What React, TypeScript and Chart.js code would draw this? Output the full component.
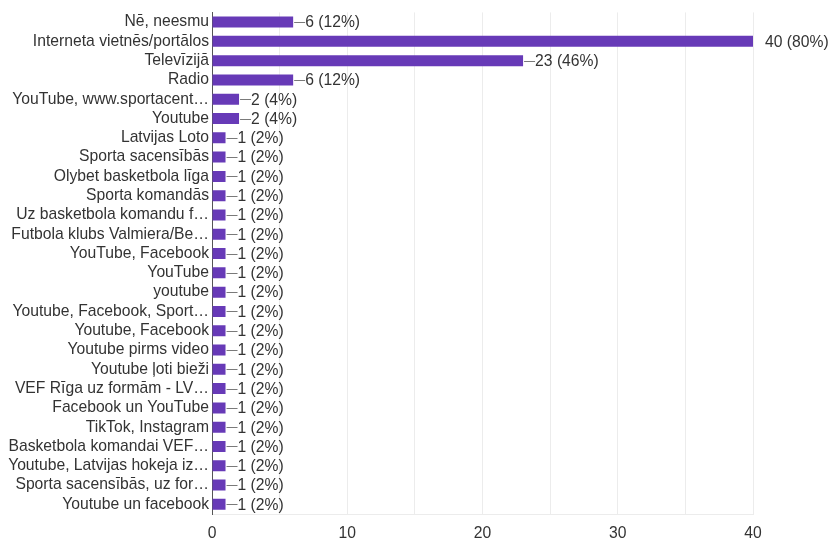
import React, { useEffect, useRef } from "react";
import { Chart, registerables } from "chart.js";

Chart.register(...registerables);

const categories: string[] = [
  "Nē, neesmu",
  "Interneta vietnēs/portālos",
  "Televīzijā",
  "Radio",
  "YouTube, www.sportacent…",
  "Youtube",
  "Latvijas Loto",
  "Sporta sacensībās",
  "Olybet basketbola līga",
  "Sporta komandās",
  "Uz basketbola komandu f…",
  "Futbola klubs Valmiera/Be…",
  "YouTube, Facebook",
  "YouTube",
  "youtube",
  "Youtube, Facebook, Sport…",
  "Youtube, Facebook",
  "Youtube pirms video",
  "Youtube ļoti bieži",
  "VEF Rīga uz formām - LV…",
  "Facebook un YouTube",
  "TikTok, Instagram",
  "Basketbola komandai VEF…",
  "Youtube, Latvijas hokeja iz…",
  "Sporta sacensībās, uz for…",
  "Youtube un facebook",
];

const counts: number[] = [6, 40, 23, 6, 2, 2, 1, 1, 1, 1, 1, 1, 1, 1, 1, 1, 1, 1, 1, 1, 1, 1, 1, 1, 1, 1];
const totalResponses = 50;
const xTicks: number[] = [0, 10, 20, 30, 40];

const FONT = "'Liberation Sans', Arial, sans-serif";
const TEXT = "#333333";
const BAR = "#673ab7";
const FS = 15.7;

const labelPlugin = {
  id: "valueLabels",
  afterDatasetsDraw(chart: any) {
    const ctx = chart.ctx;
    const meta = chart.getDatasetMeta(0);
    const xScale = chart.scales.x;
    ctx.save();
    ctx.font = `${FS}px ${FONT}`;
    ctx.fillStyle = TEXT;
    ctx.textBaseline = "middle";
    ctx.textAlign = "left";
    meta.data.forEach((bar: any, i: number) => {
      const v = counts[i];
      const pct = Math.round((v / totalResponses) * 100);
      const text = `${v} (${pct}%)`;
      const x0 = bar.x;
      const y = bar.y;
      const atMax = v >= xScale.max;
      if (!atMax) {
        ctx.strokeStyle = "#7a7a7a";
        ctx.lineWidth = 1;
        ctx.beginPath();
        ctx.moveTo(x0 + 1, Math.round(y) + 0.5);
        ctx.lineTo(x0 + 12, Math.round(y) + 0.5);
        ctx.stroke();
      }
      ctx.fillText(text, x0 + 12, y + 1);
    });
    ctx.restore();
  },
};

export default function App() {
  const ref = useRef<HTMLCanvasElement | null>(null);
  useEffect(() => {
    if (!ref.current) return;
    const chart = new Chart(ref.current, {
      type: "bar",
      data: {
        labels: categories,
        datasets: [
          {
            data: counts,
            backgroundColor: BAR,
            borderWidth: 0,
            barPercentage: 0.57,
            categoryPercentage: 1,
          },
        ],
      },
      options: {
        indexAxis: "y",
        animation: false,
        responsive: true,
        maintainAspectRatio: false,
        layout: { padding: { top: 12, right: 79, bottom: 0, left: 0 } },
        plugins: {
          legend: { display: false },
          tooltip: { enabled: false },
        },
        scales: {
          x: {
            min: 0,
            max: 40,
            afterFit: (scale: any) => {
              scale.height = 26;
            },
            ticks: {
              stepSize: 5,
              autoSkip: false,
              maxRotation: 0,
              padding: 12,
              color: TEXT,
              font: { size: FS, family: FONT, lineHeight: 1 },
              callback: (v: any) => (xTicks.includes(Number(v)) ? String(v) : ""),
            },
            grid: { color: "#ececec", drawTicks: false },
            border: { display: true, color: "#ececec" },
          },
          y: {
            afterFit: (scale: any) => {
              scale.width = 212;
            },
            ticks: {
              autoSkip: false,
              padding: 3,
              color: TEXT,
              font: { size: FS, family: FONT },
            },
            grid: { display: false, drawTicks: false },
            border: { display: true, color: "#555", width: 1 },
          },
        },
      },
      plugins: [labelPlugin],
    });
    return () => chart.destroy();
  }, []);
  return (
    <div style={{ position: "fixed", left: 0, top: 0, width: 832, height: 540, background: "#fff" }}>
      <canvas ref={ref} />
    </div>
  );
}
